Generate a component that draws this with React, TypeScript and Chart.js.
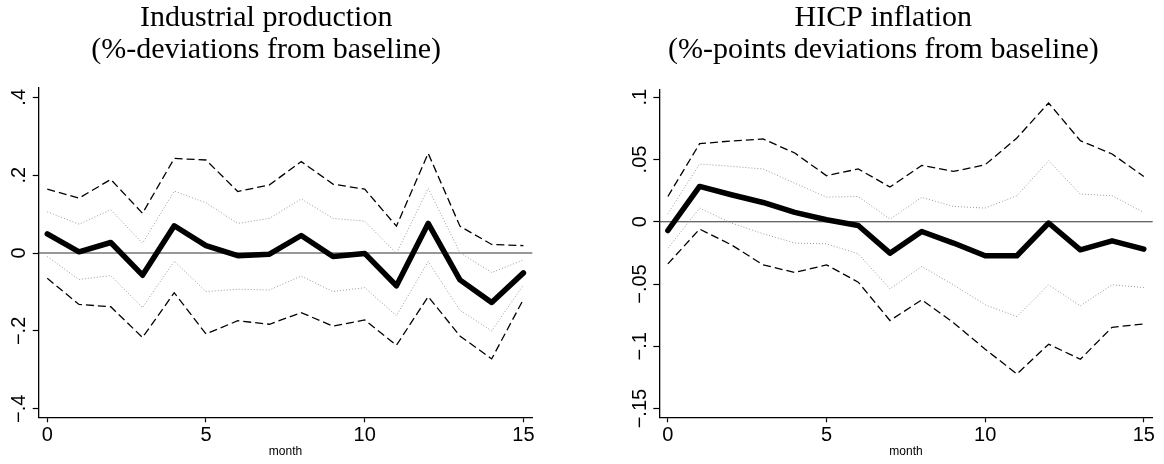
import React, { useEffect, useRef } from "react";
import { Chart, registerables } from "chart.js";

Chart.register(...registerables);

// ---------- data ----------
const months = [0, 1, 2, 3, 4, 5, 6, 7, 8, 9, 10, 11, 12, 13, 14, 15];

// Industrial production (%-deviations from baseline)
const ipMedian = [0.049, 0.003, 0.027, -0.057, 0.07, 0.019, -0.007, -0.003, 0.045, -0.009, -0.001, -0.084, 0.076, -0.069, -0.127, -0.051];
const ipUpperOuter = [0.164, 0.141, 0.189, 0.102, 0.243, 0.239, 0.158, 0.175, 0.235, 0.177, 0.164, 0.069, 0.256, 0.069, 0.022, 0.019];
const ipUpperInner = [0.106, 0.074, 0.111, 0.025, 0.159, 0.129, 0.076, 0.089, 0.139, 0.089, 0.082, -0.001, 0.166, 0.001, -0.05, -0.018];
const ipLowerInner = [-0.009, -0.068, -0.058, -0.14, -0.021, -0.099, -0.093, -0.095, -0.059, -0.099, -0.089, -0.161, -0.022, -0.147, -0.2, -0.082];
const ipLowerOuter = [-0.065, -0.132, -0.138, -0.217, -0.102, -0.208, -0.174, -0.183, -0.153, -0.188, -0.172, -0.237, -0.112, -0.213, -0.272, -0.119];

// HICP inflation (%-points deviations from baseline)
const hicpMedian = [-0.007, 0.0284, 0.0217, 0.0155, 0.0075, 0.0016, -0.003, -0.0252, -0.0078, -0.0171, -0.0273, -0.0273, -0.001, -0.0225, -0.0153, -0.022];
const hicpUpperOuter = [0.0203, 0.0627, 0.0649, 0.0665, 0.0552, 0.037, 0.0424, 0.0279, 0.0453, 0.0404, 0.0458, 0.0673, 0.0954, 0.0651, 0.0544, 0.0364];
const hicpUpperInner = [0.0064, 0.0464, 0.0445, 0.0424, 0.031, 0.0198, 0.0203, 0.0021, 0.0196, 0.0123, 0.011, 0.0209, 0.049, 0.0222, 0.0209, 0.0075];
const hicpLowerInner = [-0.0212, 0.011, -0.001, -0.0096, -0.0171, -0.0177, -0.0257, -0.0539, -0.0359, -0.0506, -0.0667, -0.0761, -0.0506, -0.0675, -0.0506, -0.0528];
const hicpLowerOuter = [-0.0338, -0.0059, -0.0185, -0.0346, -0.0407, -0.0346, -0.0485, -0.0793, -0.0627, -0.081, -0.1023, -0.1222, -0.0983, -0.1104, -0.0847, -0.082];

const xTickValues = [0, 5, 10, 15];
const xTickLabels = ["0", "5", "10", "15"];
const xAxisTitle = "month";

const ipYTickValues = [-0.4, -0.2, 0, 0.2, 0.4];
const ipYTickLabels = ["\u2212.4", "\u2212.2", "0", ".2", ".4"];
const hicpYTickValues = [-0.15, -0.1, -0.05, 0, 0.05, 0.1];
const hicpYTickLabels = ["\u2212.15", "\u2212.1", "\u2212.05", "0", ".05", ".1"];

const ipTitle = ["Industrial production", "(%-deviations from baseline)"];
const hicpTitle = ["HICP inflation", "(%-points deviations from baseline)"];

// ---------- component ----------
type PanelProps = {
  left: number;
  width: number;
  title: string[];
  median: number[];
  upperOuter: number[];
  upperInner: number[];
  lowerInner: number[];
  lowerOuter: number[];
  yTicks: number[];
  yLabels: string[];
  yMin: number;
  yMax: number;
  yAxisWidth: number;
  padRight: number;
  titleBottom: number;
};

const HEIGHT = 464;

function Panel(p: PanelProps) {
  const ref = useRef<HTMLCanvasElement | null>(null);

  useEffect(() => {
    if (!ref.current) return;
    const pts = (arr: number[]) => months.map((m, i) => ({ x: m, y: arr[i] }));

    const extras = {
      id: "panelExtras",
      beforeDatasetsDraw(chart: any) {
        const { ctx, chartArea } = chart;
        const y = chart.scales.y.getPixelForValue(0);
        ctx.save();
        ctx.strokeStyle = "#333";
        ctx.lineWidth = 1.2;
        ctx.beginPath();
        ctx.moveTo(chartArea.left, y);
        ctx.lineTo(chartArea.right, y);
        ctx.stroke();
        ctx.restore();
      },
      afterDraw(chart: any) {
        const { ctx, chartArea } = chart;
        const ys = chart.scales.y;
        ctx.save();
        ctx.fillStyle = "#000";
        ctx.font = '20px "Liberation Sans", Arial, sans-serif';
        ctx.textAlign = "center";
        ctx.textBaseline = "alphabetic";
        p.yTicks.forEach((v, i) => {
          const y = ys.getPixelForValue(v);
          ctx.save();
          ctx.translate(chartArea.left - 13.7, y);
          ctx.rotate(-Math.PI / 2);
          ctx.fillText(p.yLabels[i], 0, 0);
          ctx.restore();
        });
        ctx.restore();
      },
    };

    const chart = new Chart(ref.current, {
      type: "line",
      data: {
        datasets: [
          {
            data: pts(p.median),
            borderColor: "#000",
            borderWidth: 5.5,
            borderJoinStyle: "round",
            borderCapStyle: "round",
            pointRadius: 0,
            tension: 0,
            fill: false,
          },
          {
            data: pts(p.upperOuter),
            borderColor: "#000",
            borderWidth: 1.3,
            borderDash: [8, 4],
            pointRadius: 0,
            tension: 0,
            fill: false,
          },
          {
            data: pts(p.lowerOuter),
            borderColor: "#000",
            borderWidth: 1.3,
            borderDash: [8, 4],
            pointRadius: 0,
            tension: 0,
            fill: false,
          },
          {
            data: pts(p.upperInner),
            borderColor: "#999",
            borderWidth: 1,
            borderDash: [1, 2],
            pointRadius: 0,
            tension: 0,
            fill: false,
          },
          {
            data: pts(p.lowerInner),
            borderColor: "#999",
            borderWidth: 1,
            borderDash: [1, 2],
            pointRadius: 0,
            tension: 0,
            fill: false,
          },
        ],
      },
      options: {
        animation: false,
        responsive: false,
        devicePixelRatio: 1,
        events: [],
        layout: { padding: { left: 0, right: p.padRight, top: 0, bottom: 0 } },
        plugins: {
          legend: { display: false },
          tooltip: { enabled: false },
          title: {
            display: true,
            text: p.title,
            color: "#000",
            font: { family: '"Liberation Serif", "Times New Roman", serif', size: 30, lineHeight: 1.056, weight: "normal" },
            padding: { top: 2.35, bottom: p.titleBottom },
          },
        },
        scales: {
          x: {
            type: "linear",
            min: -0.27,
            max: 15.28,
            afterBuildTicks: (s: any) => {
              s.ticks = xTickValues.map((v) => ({ value: v }));
            },
            afterFit: (s: any) => {
              s.height = HEIGHT - 417.3;
            },
            ticks: {
              color: "#000",
              padding: 1,
              maxRotation: 0,
              font: { family: '"Liberation Sans", Arial, sans-serif', size: 20 },
              callback: (v: any) => {
                const i = xTickValues.indexOf(Number(v));
                return i >= 0 ? xTickLabels[i] : "";
              },
            },
            grid: {
              display: true,
              drawOnChartArea: false,
              drawTicks: true,
              tickLength: 5,
              tickColor: "#000",
              tickWidth: 1.2,
            },
            border: { display: true, color: "#000", width: 1.3 },
            title: {
              display: true,
              text: xAxisTitle,
              color: "#000",
              font: { family: '"Liberation Sans", Arial, sans-serif', size: 12 },
              padding: { top: 0, bottom: 5.5 },
            },
          },
          y: {
            type: "linear",
            min: p.yMin,
            max: p.yMax,
            afterBuildTicks: (s: any) => {
              s.ticks = p.yTicks.map((v) => ({ value: v }));
            },
            afterFit: (s: any) => {
              s.width = p.yAxisWidth;
            },
            ticks: { display: false },
            grid: {
              display: true,
              drawOnChartArea: false,
              drawTicks: true,
              tickLength: 6,
              tickColor: "#000",
              tickWidth: 1.2,
            },
            border: { display: true, color: "#000", width: 1.3 },
          },
        },
      } as any,
      plugins: [extras],
    });
    return () => chart.destroy();
  }, []);

  return (
    <canvas
      ref={ref}
      width={p.width}
      height={HEIGHT}
      style={{ position: "absolute", left: p.left, top: 0, width: p.width, height: HEIGHT }}
    />
  );
}

export default function App() {
  return (
    <div
      style={{
        position: "fixed",
        left: 0,
        top: 0,
        width: 1164,
        height: HEIGHT,
        background: "#fff",
        overflow: "hidden",
      }}
    >
      <Panel
        left={0}
        width={536}
        title={ipTitle}
        median={ipMedian}
        upperOuter={ipUpperOuter}
        upperInner={ipUpperInner}
        lowerInner={ipLowerInner}
        lowerOuter={ipLowerOuter}
        yTicks={ipYTickValues}
        yLabels={ipYTickLabels}
        yMin={-0.422}
        yMax={0.424}
        yAxisWidth={38.7}
        padRight={3.7}
        titleBottom={22.25}
      />
      <Panel
        left={614}
        width={550}
        title={hicpTitle}
        median={hicpMedian}
        upperOuter={hicpUpperOuter}
        upperInner={hicpUpperInner}
        lowerInner={hicpLowerInner}
        lowerOuter={hicpLowerOuter}
        yTicks={hicpYTickValues}
        yLabels={hicpYTickLabels}
        yMin={-0.157}
        yMax={0.1064}
        yAxisWidth={45.3}
        padRight={11.3}
        titleBottom={23.55}
      />
    </div>
  );
}
